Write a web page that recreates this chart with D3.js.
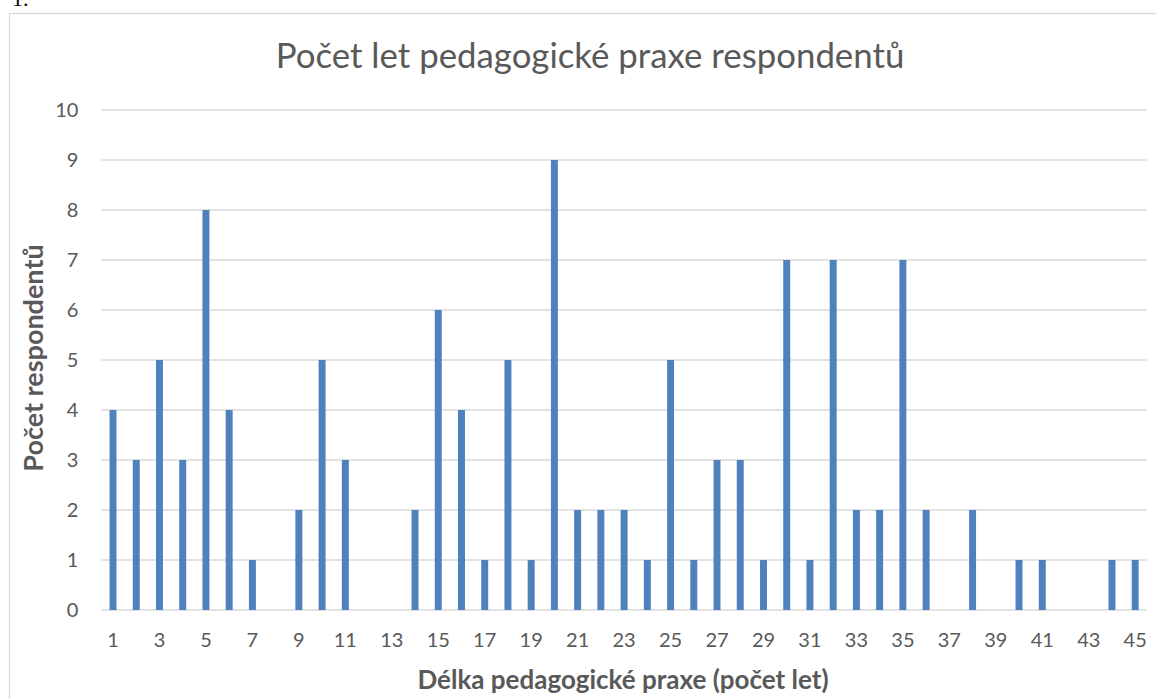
<!DOCTYPE html>
<html><head><meta charset="utf-8">
<script src="https://cdn.jsdelivr.net/npm/d3@7"></script>
<style>body{margin:0;background:#fff;}svg{display:block;font-family:Lato,"Open Sans",sans-serif;}</style>
</head><body>
<svg id="c" width="1156" height="699"></svg>
<script>
const categories = d3.range(1, 46).map(String);
const values = [4,3,5,3,8,4,1,0,2,5,3,0,0,2,6,4,1,5,1,9,2,2,2,1,5,1,3,3,1,7,1,7,2,2,7,2,0,2,0,1,1,0,0,1,1];
const yTicks = [0,1,2,3,4,5,6,7,8,9,10];
const xTickLabels = categories.filter((d,i)=>i%2===0);
const title = "Počet let pedagogické praxe respondentů";
const xTitle = "Délka pedagogické praxe (počet let)";
const yTitle = "Počet respondentů";

(function(){
const svg = d3.select("#c");
const pLeft = 101.4, pRight = 1146.8, pTop = 110, pBottom = 610;
const x = d3.scaleBand().domain(categories).range([pLeft, pRight]).paddingInner(0.7).paddingOuter(0.35);
const y = d3.scaleLinear().domain([0, 10]).range([pBottom, pTop]);

// frame
svg.append("rect").attr("x", 9.5).attr("y", 13.5).attr("width", 1160).attr("height", 700)
  .attr("fill", "none").attr("stroke", "#d9d9d9").attr("stroke-width", 1.3);
svg.append("text").attr("x", 12).attr("y", 6).attr("font-family", "Liberation Serif, serif")
  .attr("font-size", 22).attr("fill", "#000").text("1.");

// gridlines
svg.append("g").selectAll("line").data(yTicks).join("line")
  .attr("x1", pLeft).attr("x2", pRight).attr("y1", d=>y(d)).attr("y2", d=>y(d))
  .attr("stroke", "#d9d9d9").attr("stroke-width", 1.5);

// y axis labels
const yAxis = svg.append("g").attr("transform", `translate(${pLeft},0)`)
  .call(d3.axisLeft(y).tickValues(yTicks).tickSize(0).tickPadding(23));
yAxis.select(".domain").remove();
yAxis.selectAll("text").attr("font-size", 20).attr("fill", "#595959").attr("font-family", "Lato, sans-serif");

// bars
svg.append("g").selectAll("rect").data(values).join("rect")
  .attr("x", (d,i)=>x(categories[i])).attr("width", x.bandwidth())
  .attr("y", d=>y(d)).attr("height", d=>y(0)-y(d))
  .attr("fill", "#4f81bd");

// x axis labels
const xAxis = svg.append("g").attr("transform", `translate(0,${pBottom})`)
  .call(d3.axisBottom(x).tickValues(xTickLabels).tickSize(0).tickPadding(23));
xAxis.select(".domain").remove();
xAxis.selectAll("text").attr("font-size", 20).attr("fill", "#595959").attr("font-family", "Lato, sans-serif");

// titles
svg.append("text").attr("x", 590).attr("y", 68).attr("text-anchor", "middle")
  .attr("font-size", 34.8).attr("fill", "#595959").text(title);
svg.append("text").attr("x", 623).attr("y", 689).attr("text-anchor", "middle")
  .attr("font-size", 26).attr("font-weight", "bold").attr("fill", "#595959").text(xTitle);
svg.append("text").attr("transform", "translate(43,358) rotate(-90)").attr("text-anchor", "middle")
  .attr("font-size", 27).attr("font-weight", "bold").attr("fill", "#595959").text(yTitle);
})();
</script>
</body></html>
